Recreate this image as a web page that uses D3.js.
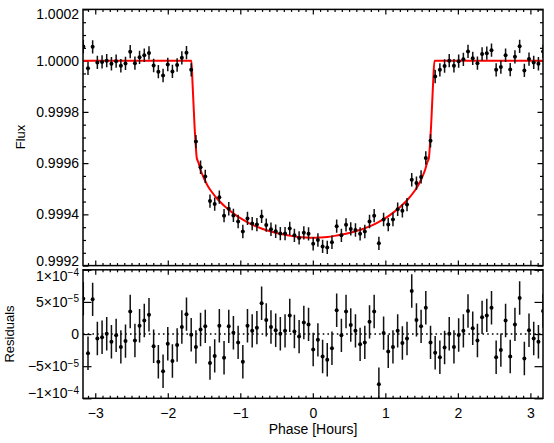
<!DOCTYPE html>
<html><head><meta charset="utf-8">
<script src="https://cdn.jsdelivr.net/npm/d3@7"></script>
<style>body{margin:0;background:#fff} svg text{font-family:"Liberation Sans",Arial,Helvetica,sans-serif;fill:#000}</style>
</head><body><svg id="c" width="554" height="443"></svg>
<script>
// ---- data ----
const phase = [-3.165,-3.100,-3.036,-2.971,-2.906,-2.842,-2.777,-2.712,-2.647,-2.583,
 -2.518,-2.453,-2.389,-2.324,-2.259,-2.195,-2.130,-2.065,-2.000,-1.936,
 -1.871,-1.806,-1.742,-1.677,-1.612,-1.548,-1.483,-1.418,-1.353,-1.289,
 -1.224,-1.159,-1.095,-1.030,-0.965,-0.901,-0.836,-0.771,-0.706,-0.642,
 -0.577,-0.512,-0.448,-0.383,-0.318,-0.254,-0.189,-0.124,-0.059,0.005,
 0.070,0.135,0.199,0.264,0.329,0.394,0.458,0.523,0.588,0.652,
 0.717,0.782,0.846,0.911,0.976,1.040,1.105,1.170,1.235,1.299,
 1.364,1.429,1.493,1.558,1.623,1.687,1.752,1.817,1.881,1.946,
 2.011,2.076,2.140,2.205,2.270,2.334,2.399,2.464,2.528,2.593,
 2.658,2.722,2.787,2.852,2.917,2.981,3.046,3.111,3.175];
const flux = [1.000055,0.999970,1.000054,0.999993,0.999995,1.000000,0.999988,0.999998,0.999980,0.999989,
 1.000035,0.999990,1.000013,1.000021,1.000030,0.999981,0.999957,0.999942,0.999985,0.999958,
 0.999983,1.000011,1.000031,0.999964,0.999684,0.999584,0.999548,0.999452,0.999440,0.999467,
 0.999395,0.999422,0.999396,0.999372,0.999333,0.999384,0.999364,0.999360,0.999392,0.999358,
 0.999342,0.999334,0.999325,0.999325,0.999345,0.999318,0.999308,0.999328,0.999324,0.999285,
 0.999300,0.999275,0.999271,0.999291,0.999354,0.999318,0.999359,0.999343,0.999339,0.999324,
 0.999333,0.999372,0.999395,0.999287,0.999380,0.999360,0.999380,0.999420,0.999414,0.999438,
 0.999535,0.999522,0.999546,0.999620,0.999687,0.999938,0.999964,0.999979,1.000000,0.999980,
 0.999998,1.000005,1.000036,1.000009,0.999990,1.000026,1.000029,1.000041,0.999964,0.999975,
 1.000021,0.999965,1.000015,1.000056,0.999962,1.000006,0.999993,0.999988,1.000036];
// residuals in units of 1e-5
const residE5 = [5.5,-3.0,5.4,-0.7,-0.5,0.05,-1.2,-0.2,-2.0,-1.1,
 3.5,-1.0,1.3,2.1,3.0,-1.9,-4.3,-5.8,-1.5,-4.2,
 -1.7,1.1,3.1,-0.1,-2.0,0.7,1.2,-4.5,-3.4,1.3,
 -3.7,1.2,0.2,-1.3,-4.3,1.3,0.5,1.0,4.8,2.2,
 1.1,0.6,0.05,0.5,2.9,0.4,-0.4,1.8,1.5,-2.4,
 -0.9,-3.5,-4.0,-2.2,3.7,-0.2,3.5,1.4,0.5,-1.6,
 -1.3,1.9,3.5,-7.8,0.15,-2.7,-2.0,0.5,-1.4,-0.7,
 6.7,2.2,1.2,4.1,-1.3,-2.9,-3.6,-2.1,0.05,-2.0,
 -0.15,0.5,3.6,0.9,-1.0,2.6,2.9,4.1,-3.6,-2.5,
 2.1,-3.5,1.5,5.6,-3.8,0.6,-0.7,-1.2,3.6];
const errE5 = 2.6; // 1-sigma error bar, units of 1e-5
const modelPhase = [-3.18,-1.674,-1.66,-1.645,-1.63,-1.615,-1.60,-1.58,-1.55,-1.50,-1.45,-1.40,-1.30,-1.20,-1.10,-1.00,-0.90,-0.80,-0.70,-0.60,-0.50,-0.40,-0.30,-0.20,-0.10,0,
 0.10,0.20,0.30,0.40,0.50,0.60,0.70,0.80,0.90,1.00,1.10,1.20,1.30,1.40,1.45,1.50,1.55,1.58,1.60,1.615,1.63,1.645,1.66,1.677,3.18];
const modelFlux = [1.0,1.0,0.99992,0.99983,0.99974,0.99967,0.99962,0.999605,0.999575,0.99954,0.999512,0.99949,0.999455,0.999428,0.999405,0.999385,0.999369,0.999355,0.999344,0.999335,0.999327,0.999321,0.999316,0.999312,0.99931,0.999309,
 0.99931,0.999312,0.999316,0.999321,0.999327,0.999335,0.999344,0.999355,0.999369,0.999385,0.999405,0.999428,0.999455,0.99949,0.999512,0.99954,0.999575,0.999605,0.99962,0.99967,0.99974,0.99983,0.99992,1.0,1.0];
const xTicks = [-3,-2,-1,0,1,2,3];
const xTickLabels = ["−3","−2","−1","0","1","2","3"];
const fluxTicks = [0.9992,0.9994,0.9996,0.9998,1.0000,1.0002];
const residTicks = [-1e-4,-5e-5,0,5e-5,1e-4];
const residTickLabels = [["−1×10","−4"],["−5×10","−5"],["0",""],["5×10","−5"],["1×10","−4"]];

// ---- layout ----
const svg = d3.select("#c");
const L = 83, R = 543, T1 = 9.4, B1 = 265.6, T2 = 269.8, B2 = 398.3;
const x = d3.scaleLinear().domain([-3.169, 3.174]).range([L, R]);
const yF = d3.scaleLinear().domain([0.9992, 1.0002]).range([B1, T1]);
const yR = d3.scaleLinear().domain([-1e-4, 1e-4]).range([B2, T2]);

const defs = svg.append("defs");
defs.append("clipPath").attr("id","cp1").append("rect").attr("x",L).attr("y",T1).attr("width",R-L).attr("height",B1-T1);
defs.append("clipPath").attr("id","cp2").append("rect").attr("x",L).attr("y",T2).attr("width",R-L).attr("height",B2-T2);

const xMinor = d3.range(-32, 33).map(i => i/10).filter(v => Math.abs(v - Math.round(v)) > 1e-6 && v > -3.169 && v < 3.174);
const fluxMinor = d3.range(0, 21).map(i => 0.9992 + i*0.00005).filter(v => !fluxTicks.some(t => Math.abs(t-v) < 1e-9));

function styleAxis(g){ g.select(".domain").remove(); g.selectAll("line").attr("stroke","#000").attr("stroke-width",1.2); }

// x axes for both panels (top and bottom edges)
function xAxes(top, bottom, labels){
  svg.append("g").attr("transform",`translate(0,${bottom})`)
    .call(d3.axisBottom(x).tickValues(xTicks).tickSizeInner(-5).tickSizeOuter(0).tickPadding(9.5)
      .tickFormat((d,i) => labels ? xTickLabels[i] : ""))
    .call(styleAxis).call(g => g.selectAll("text").attr("font-size",14));
  svg.append("g").attr("transform",`translate(0,${bottom})`)
    .call(d3.axisBottom(x).tickValues(xMinor).tickSizeInner(-2.5).tickSizeOuter(0).tickFormat(""))
    .call(styleAxis);
  svg.append("g").attr("transform",`translate(0,${top})`)
    .call(d3.axisTop(x).tickValues(xTicks).tickSizeInner(-5).tickSizeOuter(0).tickFormat(""))
    .call(styleAxis);
  svg.append("g").attr("transform",`translate(0,${top})`)
    .call(d3.axisTop(x).tickValues(xMinor).tickSizeInner(-2.5).tickSizeOuter(0).tickFormat(""))
    .call(styleAxis);
}
xAxes(T1, B1, false);
xAxes(T2, B2, true);

// flux y axes (end labels nudged inside the frame, as in the original)
svg.append("g").attr("transform",`translate(${L},0)`)
  .call(d3.axisLeft(yF).tickValues(fluxTicks).tickSizeInner(-5.5).tickSizeOuter(0).tickPadding(4).tickFormat(d3.format(".4f")))
  .call(styleAxis).call(g => g.selectAll("text").attr("font-size",14)
    .attr("transform", (d,i) => i === 0 ? "translate(0,-5)" : (i === fluxTicks.length-1 ? "translate(0,5)" : null)));
svg.append("g").attr("transform",`translate(${L},0)`)
  .call(d3.axisLeft(yF).tickValues(fluxMinor).tickSizeInner(-3).tickSizeOuter(0).tickFormat(""))
  .call(styleAxis);
svg.append("g").attr("transform",`translate(${R},0)`)
  .call(d3.axisRight(yF).tickValues(fluxTicks).tickSizeInner(-5.5).tickSizeOuter(0).tickFormat(""))
  .call(styleAxis);
svg.append("g").attr("transform",`translate(${R},0)`)
  .call(d3.axisRight(yF).tickValues(fluxMinor).tickSizeInner(-3).tickSizeOuter(0).tickFormat(""))
  .call(styleAxis);

// residual y axes
const ra = svg.append("g").attr("transform",`translate(${L},0)`)
  .call(d3.axisLeft(yR).tickValues(residTicks).tickSizeInner(-8.5).tickSizeOuter(0).tickPadding(4).tickFormat(""))
  .call(styleAxis);
ra.selectAll(".tick text").each(function(d,i){
  const t = d3.select(this).attr("font-size",14).attr("dy","0.32em");
  if (i === 0) t.attr("transform","translate(0,-5)");
  if (i === residTicks.length-1) t.attr("transform","translate(0,6)");
  const lab = residTickLabels[i];
  t.text(null);
  t.append("tspan").text(lab[0]);
  if (lab[1]) t.append("tspan").attr("dy","-0.45em").attr("font-size",10).text(lab[1]);
});
svg.append("g").attr("transform",`translate(${R},0)`)
  .call(d3.axisRight(yR).tickValues(residTicks).tickSizeInner(-8.5).tickSizeOuter(0).tickFormat(""))
  .call(styleAxis);

// model
svg.append("path").attr("clip-path","url(#cp1)")
  .datum(modelPhase.map((p,i) => [p, modelFlux[i]]))
  .attr("fill","none").attr("stroke","#ff0000").attr("stroke-width",2)
  .attr("d", d3.line().x(d => x(d[0])).y(d => yF(d[1])).curve(d3.curveMonotoneX));

// flux data
const g1 = svg.append("g").attr("clip-path","url(#cp1)");
g1.selectAll("line").data(phase).join("line")
  .attr("x1", d => x(d)).attr("x2", d => x(d))
  .attr("y1", (d,i) => yF(flux[i] - errE5*1e-5)).attr("y2", (d,i) => yF(flux[i] + errE5*1e-5))
  .attr("stroke","#111").attr("stroke-width",1.5);
g1.selectAll("circle").data(phase).join("circle")
  .attr("cx", d => x(d)).attr("cy", (d,i) => yF(flux[i])).attr("r",2).attr("fill","#000");

// residual zero line
svg.append("line").attr("x1",L).attr("x2",R).attr("y1",yR(0)).attr("y2",yR(0))
  .attr("stroke","#000").attr("stroke-width",1.4).attr("stroke-dasharray","1.6,3.1");

const g2 = svg.append("g").attr("clip-path","url(#cp2)");
g2.selectAll("line").data(phase).join("line")
  .attr("x1", d => x(d)).attr("x2", d => x(d))
  .attr("y1", (d,i) => yR((residE5[i] - errE5)*1e-5)).attr("y2", (d,i) => yR((residE5[i] + errE5)*1e-5))
  .attr("stroke","#111").attr("stroke-width",1.5);
g2.selectAll("circle").data(phase).join("circle")
  .attr("cx", d => x(d)).attr("cy", (d,i) => yR(residE5[i]*1e-5)).attr("r",2).attr("fill","#000");

// frames
[[T1,B1],[T2,B2]].forEach(([t,b]) => svg.append("rect").attr("x",L).attr("y",t).attr("width",R-L).attr("height",b-t)
  .attr("fill","none").attr("stroke","#000").attr("stroke-width",1.5));

// titles
svg.append("text").attr("transform","translate(25,137) rotate(-90)").attr("text-anchor","middle").attr("font-size",13).text("Flux");
svg.append("text").attr("transform","translate(14,334) rotate(-90)").attr("text-anchor","middle").attr("font-size",13).text("Residuals");
svg.append("text").attr("x",313).attr("y",434).attr("text-anchor","middle").attr("font-size",14).text("Phase [Hours]");
</script></body></html>
